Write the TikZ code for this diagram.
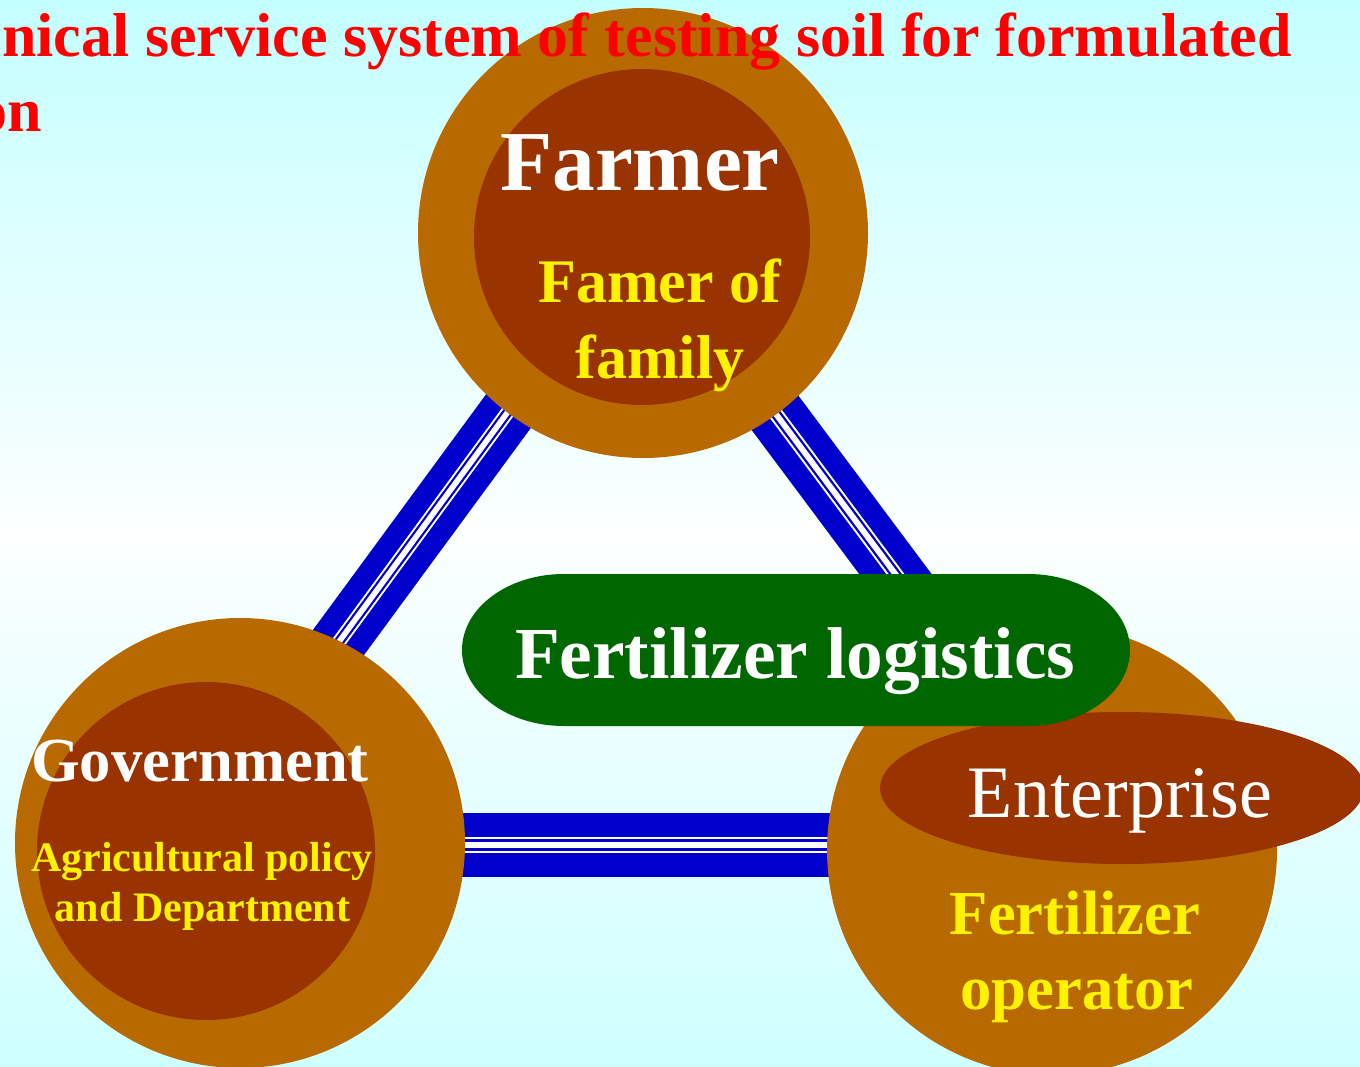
\documentclass[tikz,border=0pt]{standalone}
\usepackage{fontspec}
\setmainfont{Liberation Serif}
\usetikzlibrary{shapes.geometric}

\definecolor{bgtop}{RGB}{196,255,255}
\definecolor{bgbottom}{RGB}{206,255,255}
\definecolor{bgpale}{RGB}{252,255,255}
\definecolor{linkblue}{RGB}{0,0,204}
\definecolor{ringbrown}{RGB}{184,106,0}
\definecolor{corebrown}{RGB}{153,51,0}
\definecolor{pillgreen}{RGB}{0,102,0}

\tikzset{
  % one unit = one pixel, y pointing down
  px/.style={x=0.75pt, y=-0.75pt},
  % blue band with white pinstripes
  tripleband/.style={draw=linkblue, line width=#1*0.75pt,
    postaction={draw=white, line width=#1*0.25*0.75pt},
    postaction={draw=linkblue, line width=#1*0.18*0.75pt},
    postaction={draw=white, line width=#1*0.1*0.75pt}},
  ring/.style={circle, fill=ringbrown, draw=none, inner sep=0pt, minimum size=337.5pt},
  core/.style={circle, fill=corebrown, draw=none, inner sep=0pt, minimum size=#1*1.5pt},
  txt/.style={inner sep=0pt, anchor=base},
  titletext/.style={txt, text=red, font=\bfseries\fontsize{46.5}{56}\selectfont},
  bigwhite/.style={txt, text=white, font=\bfseries\fontsize{#1}{#1}\selectfont},
  yellowtext/.style={txt, text=yellow, font=\bfseries\fontsize{#1}{#1}\selectfont},
}

\begin{document}
\begin{tikzpicture}[px]
\useasboundingbox (0,0) rectangle (1360,1067);
\clip (0,0) rectangle (1360,1067);

% background
\shade[top color=bgtop, bottom color=bgbottom, middle color=bgpale] (0,0) rectangle (1360,1067);

% band end points
\coordinate (fgA) at (643,228);
\coordinate (fgB) at (283,718);
\coordinate (feA) at (643,236);
\coordinate (feB) at (1035,761);
\coordinate (geA) at (240,845);
\coordinate (geB) at (1052,845);

% connecting bands
\path[tripleband=56] (fgA) -- (fgB);
\path[tripleband=58] (feA) -- (feB);
\path[tripleband=64] (geA) -- (geB);

% Farmer
\node[ring] (farmer) at (643,233) {};
\node[core=168] (farmerCore) at (642,237) {};
\node[bigwhite=64] (farmerLbl) at (640,190.7) {Farmer};
\node[yellowtext=46.5] (famer1) at (659.5,302.7) {Famer of};
\node[yellowtext=46.5] (famer2) at (660,378) {family};

% Government
\node[ring] (gov) at (240,843) {};
\node[core=169] (govCore) at (206,851) {};
\node[bigwhite=47] (govLbl) at (200,781) {Government};
\node[yellowtext=31.5] (gov1) at (202,871.7) {Agricultural policy};
\node[yellowtext=31.5] (gov2) at (202.5,921.7) {and Department};

% Enterprise
\node[ring] (ent) at (1052,850) {};
\node[ellipse, fill=corebrown, draw=none, inner sep=0pt,
      minimum width=363pt, minimum height=114pt] (entCore) at (1122,788) {};
\node[txt, text=white, font=\fontsize{55.5}{55.5}\selectfont] (entLbl) at (1120,817) {Enterprise};
\node[yellowtext=47] (ent1) at (1075,934) {Fertilizer};
\node[yellowtext=47] (ent2) at (1077,1009) {operator};

% logistics pill
\fill[pillgreen] (564,574) -- (1028,574)
  arc[start angle=-90, end angle=90, x radius=102, y radius=76]
  -- (564,726)
  arc[start angle=90, end angle=270, x radius=102, y radius=76] -- cycle;
\node[bigwhite=55] (logistics) at (795,678) {Fertilizer logistics};

% heading
\node[titletext, anchor=base west] (head1) at (2,56) {nical service system of testing soil for formulated};
\node[titletext, anchor=base east] (head2) at (42,131) {on};
\end{tikzpicture}
\end{document}
